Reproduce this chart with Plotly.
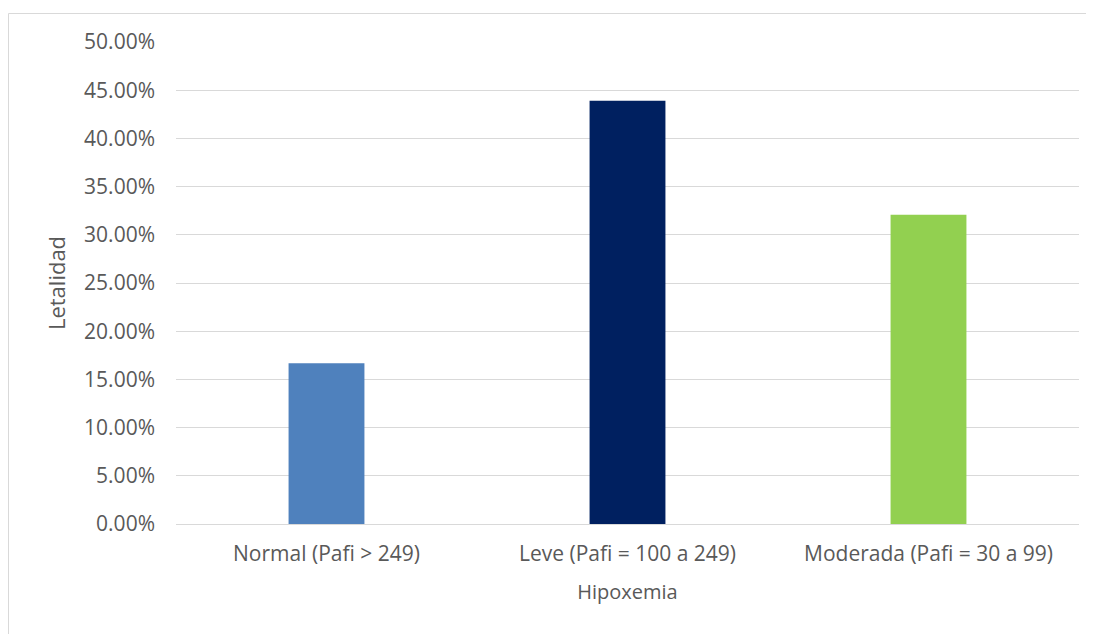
import plotly.graph_objects as go

categories = ["Normal (Pafi > 249)", "Leve (Pafi = 100 a 249)", "Moderada (Pafi = 30 a 99)"]
letalidad = [0.1667, 0.4390, 0.3208]
colors = ["#4F81BD", "#002060", "#92D050"]
tick_vals = [i * 0.05 for i in range(11)]
tick_text = [f"{v*100:.2f}%" for v in tick_vals]

W, H = 1094, 634
OFF = 8  # page offset of the figure in the browser
ml, mr, mt, mb = 176 - OFF, 15 + OFF, 42 - OFF, 110 + OFF

fig = go.Figure()
fig.add_trace(go.Bar(x=categories, y=letalidad, marker=dict(color=colors, line=dict(width=0)),
                     width=0.252, hoverinfo="x+y"))

font_fam = "'Open Sans', Lato, sans-serif"
fs = 21
fts = 20
fig.update_layout(
    width=W, height=H,
    margin=dict(l=ml, r=mr, t=mt, b=mb),
    paper_bgcolor="white", plot_bgcolor="white",
    font=dict(family=font_fam, size=fs, color="#595959"),
    showlegend=False,
    xaxis=dict(
        title=dict(text="Hipoxemia", font=dict(size=fts, color="#595959"), standoff=18),
        showline=True, linecolor="#D9D9D9", linewidth=1, showgrid=False,
        ticks="", tickfont=dict(size=fs, color="#595959"),
        ticklabelstandoff=11,
    ),
    yaxis=dict(
        title=dict(text="Letalidad", font=dict(size=22, color="#595959"), standoff=12),
        range=[0, 0.5], tickvals=tick_vals, ticktext=tick_text,
        showgrid=True, gridcolor="#D9D9D9", gridwidth=1,
        zeroline=False, showline=False, ticks="",
        ticklabelstandoff=20,
        tickfont=dict(size=fs, color="#595959"),
    ),
)

pw = W - ml - mr
ph = H - mt - mb
def px_x(x):
    return (x - OFF - ml) / pw
def px_y(y):
    return (H - mb - (y - OFF)) / ph
fig.add_shape(type="rect", xref="paper", yref="paper",
              x0=px_x(8.5), x1=px_x(1093.5), y0=px_y(700), y1=px_y(13.5),
              line=dict(color="#D9D9D9", width=1), fillcolor="rgba(0,0,0,0)", layer="below")

fig.write_html("out.html")
